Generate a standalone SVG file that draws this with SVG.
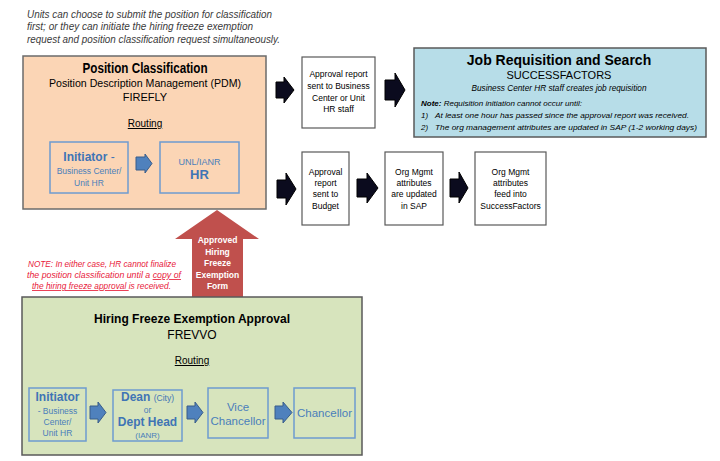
<svg xmlns="http://www.w3.org/2000/svg" width="720" height="461" viewBox="0 0 720 461">
<style>
text{font-family:"Liberation Sans",Arial,sans-serif;}
.c{text-anchor:middle;}
.blk{fill:#000;}
.box{fill:#fff;stroke:#595959;stroke-width:1.2;}
.pc{fill:#FBD5B5;stroke:#6b6b6b;stroke-width:1.5;}
.gr{fill:#D7E4BD;stroke:#5a5a5a;stroke-width:1.5;}
.jr{fill:#B7DDE8;stroke:#5a5a5a;stroke-width:1.5;}
.ib{fill:none;stroke:#6E9BD0;stroke-width:1.5;}
.bt{fill:#4A7EBB;}
.barr{fill:#0B0B1E;stroke:#000;stroke-width:1;}
.blarr{fill:#4F81BD;stroke:#385D8A;stroke-width:1;}
.red{fill:#E8203A;font-style:italic;}
</style>
<rect width="720" height="461" fill="#fff"/>
<g id="intro-note" font-style="italic" fill="#3a3a3a" font-size="10.5">
<text x="27" y="18" textLength="245" lengthAdjust="spacingAndGlyphs">Units can choose to submit the position for classification</text>
<text x="27" y="30" textLength="226" lengthAdjust="spacingAndGlyphs">first; or they can initiate the hiring freeze exemption</text>
<text x="27" y="43" textLength="253" lengthAdjust="spacingAndGlyphs">request and position classification request simultaneously.</text>
</g>
<g id="position-classification">
<rect class="pc" x="23" y="56" width="243" height="153"/>
<text class="c blk" x="145" y="73" font-size="14" font-weight="bold" textLength="125" lengthAdjust="spacingAndGlyphs">Position Classification</text>
<text class="c blk" x="145" y="87" font-size="11.5" textLength="192" lengthAdjust="spacingAndGlyphs">Position Description Management (PDM)</text>
<text class="c blk" x="145" y="101" font-size="11">FIREFLY</text>
<text class="c blk" x="145" y="127" font-size="10" text-decoration="underline">Routing</text>
<g id="pc-initiator">
<rect class="ib" x="50" y="142" width="78" height="51"/>
<text class="c" x="89" y="161" font-size="12" font-weight="bold" fill="#3F74B5">Initiator <tspan font-weight="normal">-</tspan></text>
<text class="c bt" x="89" y="174" font-size="8.5">Business Center/</text>
<text class="c bt" x="89" y="186" font-size="8.5">Unit HR</text>
</g>
<path class="blarr" d="M136,157 L145,157 L145,154 L152,163.5 L145,173 L145,170 L136,170 Z"/>
<g id="pc-hr">
<rect class="ib" x="160" y="142" width="79" height="51"/>
<text class="c bt" x="199.5" y="165" font-size="9">UNL/IANR</text>
<text class="c" x="199.5" y="179" font-size="13" font-weight="bold" fill="#3F74B5">HR</text>
</g>
</g>
<g id="approval-report-bc">
<rect class="box" x="302" y="57" width="73" height="71"/>
<text class="c blk" x="338.5" y="77" font-size="8.5">Approval report</text>
<text class="c blk" x="338.5" y="89" font-size="8.5">sent to Business</text>
<text class="c blk" x="338.5" y="101" font-size="8.5">Center or Unit</text>
<text class="c blk" x="338.5" y="112" font-size="8.5">HR staff</text>
</g>
<g id="job-requisition">
<rect class="jr" x="414" y="48" width="292" height="89"/>
<text class="c blk" x="559" y="65" font-size="14" font-weight="bold">Job Requisition and Search</text>
<text class="c blk" x="559" y="79" font-size="11">SUCCESSFACTORS</text>
<text class="c blk" x="559" y="91" font-size="8.5" font-style="italic" textLength="175" lengthAdjust="spacingAndGlyphs">Business Center HR staff creates job requisition</text>
<text class="blk" x="421" y="106" font-size="8" font-style="italic"><tspan font-weight="bold">Note:</tspan> Requisition initiation cannot occur until:</text>
<text class="blk" x="421" y="118" font-size="8" font-style="italic">1)</text>
<text class="blk" x="435" y="118" font-size="8" font-style="italic" textLength="254" lengthAdjust="spacingAndGlyphs">At least one hour has passed since the approval report was received.</text>
<text class="blk" x="421" y="130" font-size="8" font-style="italic">2)</text>
<text class="blk" x="435" y="130" font-size="8" font-style="italic" textLength="262" lengthAdjust="spacingAndGlyphs">The org management attributes are updated in SAP (1-2 working days)</text>
</g>
<g id="approval-report-budget">
<rect class="box" x="302" y="152" width="47" height="73"/>
<text class="c blk" x="325.5" y="175" font-size="8.5">Approval</text>
<text class="c blk" x="325.5" y="186" font-size="8.5">report</text>
<text class="c blk" x="325.5" y="197" font-size="8.5">sent to</text>
<text class="c blk" x="325.5" y="209" font-size="8.5">Budget</text>
</g>
<g id="org-mgmt-sap">
<rect class="box" x="385" y="152" width="58" height="73"/>
<text class="c blk" x="414" y="175" font-size="8.5">Org Mgmt</text>
<text class="c blk" x="414" y="186" font-size="8.5">attributes</text>
<text class="c blk" x="414" y="197" font-size="8.5">are updated</text>
<text class="c blk" x="414" y="209" font-size="8.5">in SAP</text>
</g>
<g id="org-mgmt-sf">
<rect class="box" x="475" y="152" width="71" height="73"/>
<text class="c blk" x="510.5" y="175" font-size="8.5">Org Mgmt</text>
<text class="c blk" x="510.5" y="186" font-size="8.5">attributes</text>
<text class="c blk" x="510.5" y="197" font-size="8.5">feed into</text>
<text class="c blk" x="510.5" y="209" font-size="8.5">SuccessFactors</text>
</g>
<g id="connectors">
<path class="barr" d="M276,82 L284,82 L284,77 L294,90 L284,103 L284,98 L276,98 Z"/>
<path class="barr" d="M385,80 L395,80 L395,73 L405,90 L395,107 L395,100 L385,100 Z"/>
<path class="barr" d="M277,180 L286,180 L286,173 L296,189 L286,205 L286,198 L277,198 Z"/>
<path class="barr" d="M357,179 L367,179 L367,173 L378,188 L367,203 L367,197 L357,197 Z"/>
<path class="barr" d="M450,179 L459,179 L459,172 L468,188 L459,203 L459,197 L450,197 Z"/>
<g id="approved-form-arrow">
<path d="M217,210 L259,239 L243,239 L243,297 L192,297 L192,239 L175,239 Z" fill="#C0504D"/>
<g fill="#fff" font-size="8.5" font-weight="bold" text-anchor="middle">
<text x="217.5" y="243">Approved</text>
<text x="217.5" y="255">Hiring</text>
<text x="217.5" y="266">Freeze</text>
<text x="217.5" y="278">Exemption</text>
<text x="217.5" y="289">Form</text>
</g>
</g>
</g>
<g id="hr-note" font-size="8.5">
<text class="red c" x="102" y="267" textLength="148" lengthAdjust="spacingAndGlyphs">NOTE: In either case, HR cannot finalize</text>
<text class="red" x="27" y="278" textLength="154" lengthAdjust="spacingAndGlyphs">the position classification  until a <tspan text-decoration="underline">copy of</tspan></text>
<text class="red" x="32" y="289" textLength="139" lengthAdjust="spacingAndGlyphs"><tspan text-decoration="underline">the hiring freeze approval </tspan>is received.</text>
</g>
<g id="hiring-freeze">
<rect class="gr" x="22" y="297" width="340" height="158"/>
<text class="c blk" x="192" y="323" font-size="13.5" font-weight="bold" textLength="196" lengthAdjust="spacingAndGlyphs">Hiring Freeze Exemption Approval</text>
<text class="c blk" x="192" y="339" font-size="12">FREVVO</text>
<text class="c blk" x="192" y="364" font-size="10" text-decoration="underline">Routing</text>
<g id="hf-initiator">
<rect class="ib" x="29" y="388" width="57" height="53"/>
<text class="c" x="57.5" y="401" font-size="12" font-weight="bold" fill="#3F74B5">Initiator</text>
<text class="c bt" x="57.5" y="414" font-size="8.5">-  Business</text>
<text class="c bt" x="57.5" y="425" font-size="8.5">Center/</text>
<text class="c bt" x="57.5" y="436" font-size="8.5">Unit HR</text>
</g>
<g id="hf-dean">
<rect class="ib" x="113" y="390" width="69" height="51"/>
<text class="c" x="147.5" y="401" font-size="12" font-weight="bold" fill="#3F74B5">Dean <tspan font-size="8.5" font-weight="normal">(City)</tspan></text>
<text class="c bt" x="147.5" y="413" font-size="8.5">or</text>
<text class="c" x="147.5" y="426" font-size="12" font-weight="bold" fill="#3F74B5">Dept Head</text>
<text class="c bt" x="147.5" y="438" font-size="8">(IANR)</text>
</g>
<g id="hf-vice">
<rect class="ib" x="208" y="388" width="60" height="50"/>
<text class="c bt" x="238" y="411" font-size="11.5">Vice</text>
<text class="c bt" x="238" y="425" font-size="11.5">Chancellor</text>
</g>
<g id="hf-chancellor">
<rect class="ib" x="294" y="388" width="61" height="50"/>
<text class="c bt" x="324.5" y="417" font-size="11.5">Chancellor</text>
</g>
<path class="blarr" d="M90,406 L98,406 L98,402 L106,412.5 L98,423 L98,419 L90,419 Z"/>
<path class="blarr" d="M187,406 L195,406 L195,402 L203,412.5 L195,423 L195,419 L187,419 Z"/>
<path class="blarr" d="M275,406 L283,406 L283,402 L292,412.5 L283,423 L283,419 L275,419 Z"/>
</g>
</svg>
